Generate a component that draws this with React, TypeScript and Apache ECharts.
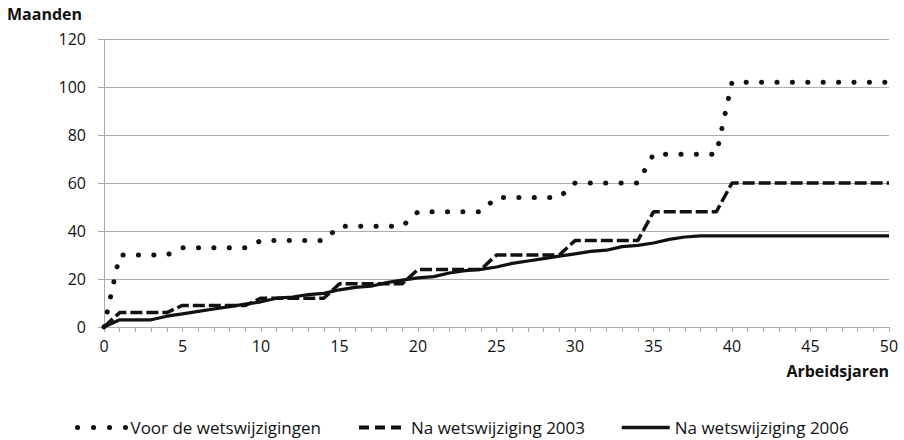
import React, { useEffect, useRef } from "react";
import * as echarts from "echarts";

const years: string[] = Array.from({ length: 51 }, (_, i) => String(i));

const voorWets: number[] = [
  0, 30, 30, 30, 30, 33, 33, 33, 33, 33,
  36, 36, 36, 36, 36, 42, 42, 42, 42, 42,
  48, 48, 48, 48, 48, 54, 54, 54, 54, 54,
  60, 60, 60, 60, 60, 72, 72, 72, 72, 72,
  102, 102, 102, 102, 102, 102, 102, 102, 102, 102, 102,
];

const na2003: number[] = [
  0, 6, 6, 6, 6, 9, 9, 9, 9, 9,
  12, 12, 12, 12, 12, 18, 18, 18, 18, 18,
  24, 24, 24, 24, 24, 30, 30, 30, 30, 30,
  36, 36, 36, 36, 36, 48, 48, 48, 48, 48,
  60, 60, 60, 60, 60, 60, 60, 60, 60, 60, 60,
];

const na2006: number[] = [
  0, 3, 3, 3, 4.5, 5.5, 6.5, 7.5, 8.5, 9.5,
  10.5, 12, 12.5, 13.5, 14, 15.5, 16.5, 17, 18.5, 19.5,
  20.5, 21, 22.5, 23.5, 24, 25, 26.5, 27.5, 28.5, 29.5,
  30.5, 31.5, 32, 33.5, 34, 35, 36.5, 37.5, 38, 38,
  38, 38, 38, 38, 38, 38, 38, 38, 38, 38, 38,
];

const seriesNames = ["Voor de wetswijzigingen", "Na wetswijziging 2003", "Na wetswijziging 2006"];
const yAxisTitle = "Maanden";
const xAxisTitle = "Arbeidsjaren";

const FONT = "'Open Sans', 'DejaVu Sans', sans-serif";
const GRID_COLOR = "#ababab";
const LINE_COLOR = "#111111";

export default function App() {
  const ref = useRef<HTMLDivElement>(null);

  useEffect(() => {
    if (!ref.current) return;
    const chart = echarts.init(ref.current, null, { renderer: "svg" });
    const legendText = { fontFamily: FONT, fontSize: 17, lineHeight: 16, color: "#111" };
    const hiddenSymbol = { opacity: 0, borderWidth: 0 };
    chart.setOption({
      animation: false,
      textStyle: { fontFamily: FONT },
      grid: { left: 104, right: 15, top: 39, bottom: 113, containLabel: false },
      xAxis: {
        type: "category",
        data: years,
        boundaryGap: false,
        axisLine: { lineStyle: { color: GRID_COLOR, width: 1 } },
        axisTick: { show: true, interval: 0, length: 5, lineStyle: { color: GRID_COLOR } },
        axisLabel: { interval: 4, margin: 11, fontSize: 16, color: "#111", fontFamily: FONT },
        splitLine: { show: false },
      },
      yAxis: {
        type: "value",
        min: 0,
        max: 120,
        interval: 20,
        axisLine: { show: true, lineStyle: { color: GRID_COLOR, width: 1 } },
        axisTick: { show: true, length: 6, lineStyle: { color: GRID_COLOR } },
        axisLabel: { margin: 18, fontSize: 16, color: "#111", fontFamily: FONT },
        splitLine: { show: true, lineStyle: { color: GRID_COLOR, width: 1 } },
      },
      legend: [
        {
          left: 70,
          top: 414,
          itemWidth: 48,
          itemHeight: 14,
          itemGap: 0,
          itemStyle: hiddenSymbol,
          textStyle: legendText,
          data: [{ name: seriesNames[0], lineStyle: { type: [0.1, 15.9], cap: "round", width: 5 } }],
        },
        {
          left: 352,
          top: 414,
          itemWidth: 42,
          itemHeight: 14,
          itemGap: 0,
          itemStyle: hiddenSymbol,
          textStyle: { ...legendText, padding: [0, 0, 0, 5] },
          data: [{ name: seriesNames[1], lineStyle: { type: [10, 6], width: 4, cap: "butt" } }],
        },
        {
          left: 615,
          top: 414,
          itemWidth: 48,
          itemHeight: 14,
          itemGap: 0,
          itemStyle: hiddenSymbol,
          textStyle: legendText,
          data: [{ name: seriesNames[2], lineStyle: { width: 3.5 } }],
        },
      ],
      graphic: [
        {
          type: "text",
          left: 7,
          top: 6,
          style: { text: yAxisTitle, font: `bold 16px ${FONT}`, fill: "#111" },
        },
        {
          type: "text",
          right: 15,
          top: 363,
          style: { text: xAxisTitle, font: `bold 16px ${FONT}`, fill: "#111" },
        },
      ],
      series: [
        {
          name: seriesNames[0],
          type: "line",
          data: voorWets,
          symbol: "none",
          color: LINE_COLOR,
          lineStyle: { color: LINE_COLOR, width: 5, type: [0.1, 15.3], cap: "round" },
        },
        {
          name: seriesNames[1],
          type: "line",
          data: na2003,
          symbol: "none",
          color: LINE_COLOR,
          lineStyle: { color: LINE_COLOR, width: 3.5, type: [12, 4], cap: "butt" },
        },
        {
          name: seriesNames[2],
          type: "line",
          data: na2006,
          symbol: "none",
          color: LINE_COLOR,
          lineStyle: { color: LINE_COLOR, width: 3.2, type: "solid" },
        },
      ],
    });
    return () => chart.dispose();
  }, []);

  return (
    <div
      ref={ref}
      style={{ position: "fixed", left: 0, top: 0, width: 904, height: 440, background: "#fff" }}
    />
  );
}
